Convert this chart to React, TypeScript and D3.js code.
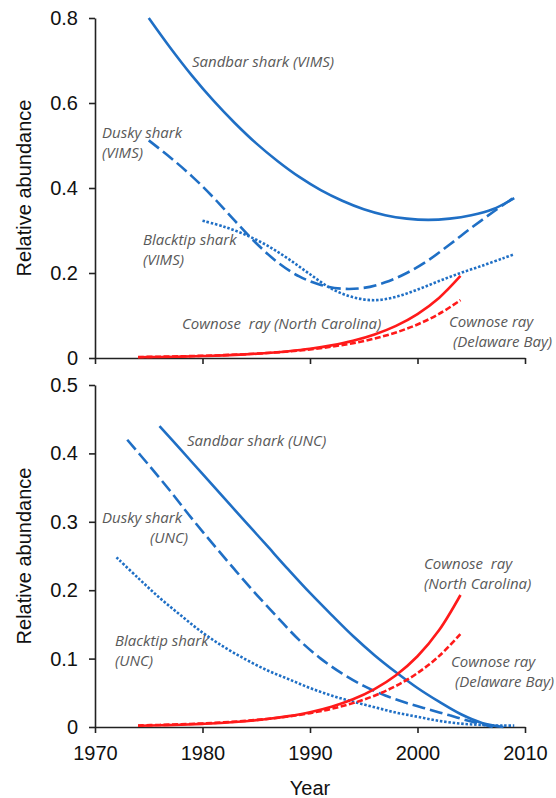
import React, { useEffect, useRef } from 'react';
import * as d3 from 'd3';

// top panel (VIMS survey)
const sandbarVimsYears = [1975, 1977, 1979, 1981, 1983, 1985, 1987, 1989, 1991, 1993, 1995, 1997, 1999, 2001, 2003, 2005, 2007, 2009];
const sandbarVims = [0.800, 0.730, 0.665, 0.606, 0.553, 0.505, 0.463, 0.426, 0.395, 0.370, 0.350, 0.336, 0.328, 0.325, 0.328, 0.336, 0.350, 0.376];
const duskyVimsYears = sandbarVimsYears;
const duskyVims = [0.512, 0.472, 0.428, 0.378, 0.323, 0.270, 0.225, 0.192, 0.172, 0.163, 0.165, 0.178, 0.200, 0.230, 0.267, 0.306, 0.343, 0.378];
const blacktipVimsYears = [1980, 1982, 1984, 1986, 1988, 1990, 1992, 1994, 1996, 1998, 2000, 2002, 2004, 2006, 2008, 2009];
const blacktipVims = [0.323, 0.309, 0.290, 0.265, 0.233, 0.197, 0.163, 0.143, 0.136, 0.144, 0.161, 0.181, 0.200, 0.217, 0.235, 0.244];

// cownose ray, same in both panels
const cownoseYears = [1974, 1976, 1978, 1980, 1982, 1984, 1986, 1988, 1990, 1992, 1994, 1996, 1998, 2000, 2002, 2004];
const cownoseNC = [0.0018, 0.0025, 0.0033, 0.0046, 0.0062, 0.0085, 0.0116, 0.0159, 0.0217, 0.0297, 0.0405, 0.0554, 0.0757, 0.1034, 0.1413, 0.193];
const cownoseDB = [0.0023, 0.0030, 0.0040, 0.0052, 0.0068, 0.0090, 0.0118, 0.0154, 0.0203, 0.0266, 0.0349, 0.0458, 0.0601, 0.0789, 0.1036, 0.136];

// bottom panel (UNC survey)
const sandbarUncYears = [1976, 1978, 1980, 1982, 1984, 1986, 1988, 1990, 1992, 1994, 1996, 1998, 2000, 2002, 2004, 2006, 2008];
const sandbarUnc = [0.440, 0.405, 0.370, 0.335, 0.300, 0.265, 0.230, 0.196, 0.164, 0.133, 0.105, 0.080, 0.057, 0.037, 0.019, 0.006, 0.0];
const duskyUncYears = [1973, 1975, 1977, 1979, 1981, 1983, 1985, 1987, 1989, 1991, 1993, 1995, 1997, 1999, 2001, 2003, 2005, 2007];
const duskyUnc = [0.420, 0.383, 0.345, 0.305, 0.267, 0.230, 0.194, 0.160, 0.127, 0.100, 0.078, 0.060, 0.046, 0.035, 0.026, 0.017, 0.008, 0.0];
const blacktipUncYears = [1972, 1974, 1976, 1978, 1980, 1982, 1984, 1986, 1988, 1990, 1992, 1994, 1996, 1998, 2000, 2002, 2004, 2006, 2008, 2009];
const blacktipUnc = [0.248, 0.218, 0.189, 0.163, 0.138, 0.117, 0.099, 0.083, 0.070, 0.057, 0.046, 0.037, 0.029, 0.021, 0.015, 0.009, 0.005, 0.003, 0.002, 0.002];

const xTicks = [1970, 1980, 1990, 2000, 2010];
const yTicksTop = [0, 0.2, 0.4, 0.6, 0.8];
const yTicksBottom = [0, 0.1, 0.2, 0.3, 0.4, 0.5];

const BLUE = '#1f6fc5';
const RED = '#ff1a1a';
const GREY = '#595959';
const AXIS_FONT = '"Liberation Sans", Arial, sans-serif';
const LABEL_FONT = '"Open Sans", sans-serif';

const styles = {
  solid: { color: BLUE, dash: null },
  longdash: { color: BLUE, dash: '13,5' },
  dot: { color: BLUE, dash: '2.5,1.8' },
  red: { color: RED, dash: null },
  reddash: { color: RED, dash: '6,2.5' },
};

const topSeries = [
  { years: sandbarVimsYears, values: sandbarVims, style: 'solid' },
  { years: duskyVimsYears, values: duskyVims, style: 'longdash' },
  { years: blacktipVimsYears, values: blacktipVims, style: 'dot' },
  { years: cownoseYears, values: cownoseDB, style: 'reddash' },
  { years: cownoseYears, values: cownoseNC, style: 'red' },
];
const bottomSeries = [
  { years: sandbarUncYears, values: sandbarUnc, style: 'solid' },
  { years: duskyUncYears, values: duskyUnc, style: 'longdash' },
  { years: blacktipUncYears, values: blacktipUnc, style: 'dot' },
  { years: cownoseYears, values: cownoseDB, style: 'reddash' },
  { years: cownoseYears, values: cownoseNC, style: 'red' },
];

const topLabels = [
  { lines: ['Sandbar shark (VIMS)'], x: 192, y: 61 },
  { lines: ['Dusky shark', '(VIMS)'], x: 102, y: 132 },
  { lines: ['Blacktip shark', '(VIMS)'], x: 143, y: 239 },
  { lines: ['Cownose  ray (North Carolina)'], x: 182, y: 323 },
  { lines: ['Cownose ray', ' (Delaware Bay)'], x: 449, y: 321 },
];
const bottomLabels = [
  { lines: ['Sandbar shark (UNC)'], x: 187, y: 440 },
  { lines: ['Dusky shark'], x: 102, y: 517 },
  { lines: ['(UNC)'], x: 150, y: 537 },
  { lines: ['Blacktip shark', '(UNC)'], x: 115, y: 640 },
  { lines: ['Cownose  ray', '(North Carolina)'], x: 424, y: 563 },
  { lines: ['Cownose ray', ' (Delaware Bay)'], x: 451, y: 661 },
];

function drawPanel(svg, { series, labels, yTicks, yMax, top, bottom, showX }) {
  const x = d3.scaleLinear().domain([1970, 2010]).range([95, 525]);
  const y = d3.scaleLinear().domain([0, yMax]).range([bottom, top]);
  const g = svg.append('g');

  const yAxis = g.append('g')
    .attr('transform', `translate(95,0)`)
    .call(d3.axisLeft(y).tickValues(yTicks).tickSize(6).tickSizeOuter(0).tickPadding(11)
      .tickFormat(d => d === 0 ? '0' : d3.format('.1f')(d)));
  const xAxis = g.append('g')
    .attr('transform', `translate(0,${bottom})`)
    .call(d3.axisBottom(x).tickValues(xTicks).tickSize(6).tickSizeOuter(0).tickPadding(13)
      .tickFormat(d => showX ? String(d) : ''));

  [yAxis, xAxis].forEach(a => {
    a.selectAll('path, line').attr('stroke', '#222').attr('stroke-width', 1.6);
    a.selectAll('text').attr('font-family', AXIS_FONT).attr('font-size', 20).attr('fill', '#111');
  });

  g.append('text')
    .attr('transform', `translate(24,${(top + bottom) / 2}) rotate(-90)`)
    .attr('text-anchor', 'middle')
    .attr('dominant-baseline', 'central')
    .attr('font-family', AXIS_FONT)
    .attr('font-size', 20)
    .attr('fill', '#111')
    .text('Relative abundance');

  const line = d3.line().x(d => x(d[0])).y(d => y(d[1])).curve(d3.curveCatmullRom.alpha(0.5));

  g.append('g')
    .selectAll('path')
    .data(series)
    .join('path')
      .attr('d', s => line(s.years.map((yr, i) => [yr, s.values[i]])))
      .attr('fill', 'none')
      .attr('stroke', s => styles[s.style].color)
      .attr('stroke-width', 2.6)
      .attr('stroke-dasharray', s => styles[s.style].dash);

  g.append('g')
    .attr('font-family', LABEL_FONT)
    .attr('font-style', 'italic')
    .attr('font-size', 15)
    .attr('fill', GREY)
    .selectAll('text')
    .data(labels)
    .join('text')
      .attr('x', d => d.x)
      .attr('y', d => d.y)
      .attr('dominant-baseline', 'central')
      .style('white-space', 'pre')
      .call(t => t.selectAll('tspan')
        .data(d => d.lines.map((l, i) => ({ l, i, x: d.x, y: d.y })))
        .join('tspan')
          .attr('x', d => d.x)
          .attr('y', d => d.y + d.i * 20)
          .text(d => d.l));

  if (showX) {
    g.append('text')
      .attr('x', x(1990))
      .attr('y', 788)
      .attr('text-anchor', 'middle')
      .attr('dominant-baseline', 'central')
      .attr('font-family', AXIS_FONT)
      .attr('font-size', 20)
      .attr('fill', '#111')
      .text('Year');
  }
}

export default function App() {
  const ref = useRef(null);

  useEffect(() => {
    const svg = d3.select(ref.current);
    svg.selectAll('*').remove();
    drawPanel(svg, { series: topSeries, labels: topLabels, yTicks: yTicksTop, yMax: 0.8, top: 18, bottom: 358, showX: false });
    drawPanel(svg, { series: bottomSeries, labels: bottomLabels, yTicks: yTicksBottom, yMax: 0.5, top: 385, bottom: 727, showX: true });
  }, []);

  return (
    <svg ref={ref} width={556} height={798}
      style={{ position: 'absolute', left: 0, top: 0, background: '#fff', display: 'block' }} />
  );
}
